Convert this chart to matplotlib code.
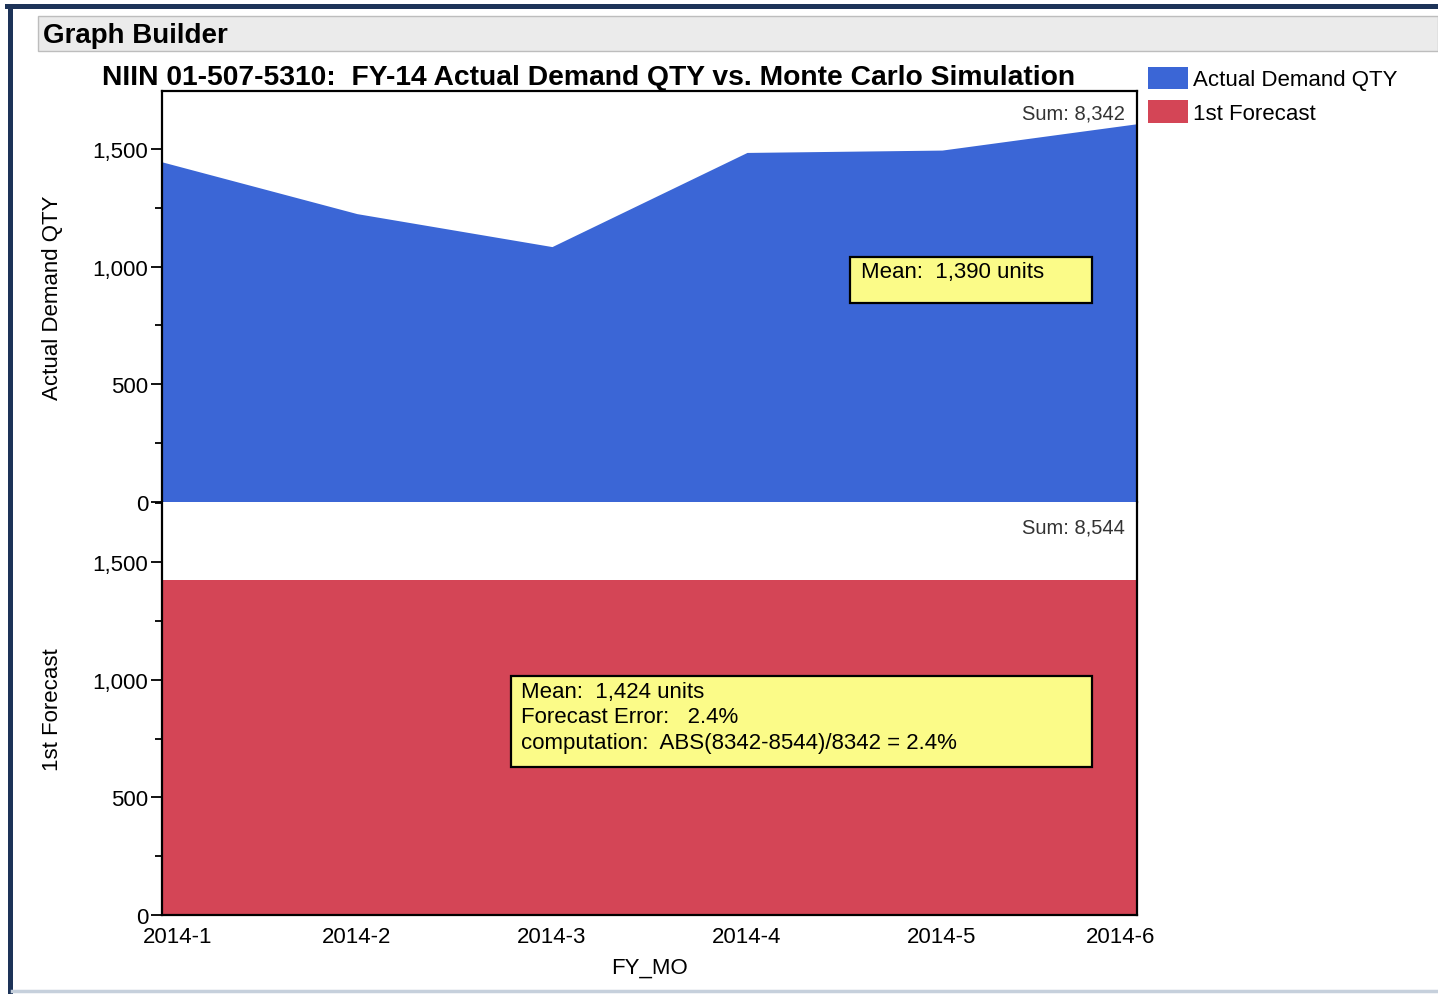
import matplotlib
matplotlib.use("Agg")
import matplotlib.pyplot as plt
from matplotlib.patches import Rectangle, Patch
from matplotlib.ticker import MultipleLocator, FuncFormatter
from matplotlib.transforms import ScaledTranslation

plt.rcParams["font.family"] = ["Liberation Sans", "DejaVu Sans"]

# ---- data ----
months = ["2014-1", "2014-2", "2014-3", "2014-4", "2014-5", "2014-6"]
actual = [1445, 1225, 1085, 1485, 1495, 1607]
forecast = [1424, 1424, 1424, 1424, 1424, 1424]

title = "NIIN 01-507-5310:  FY-14 Actual Demand QTY vs. Monte Carlo Simulation"
BLUE = "#3b66d6"
RED = "#d44556"
YELLOW = "#fbfb88"

W, H = 1438, 995


def fx(x):
    return x / W


def fy(y):
    return 1 - y / H


def main():
    fig = plt.figure(figsize=(W / 100, H / 100), dpi=100)

    # ---- window chrome ----
    fig.add_artist(plt.Line2D([fx(9.5), fx(9.5)], [fy(7), fy(995)],
                              color="#1d3358", lw=3.6))
    fig.add_artist(plt.Line2D([fx(7), fx(1438)], [fy(7), fy(7)],
                              color="#1d3358", lw=3.6))
    fig.add_artist(plt.Line2D([fx(12), fx(1438)], [fy(992), fy(992)],
                              color="#c6d0dc", lw=2.5))
    fig.add_artist(Rectangle((fx(38), fy(52)), fx(1438 - 38), 35 / H,
                             facecolor="#ebebeb", edgecolor="#bdbdbd", lw=1))
    fig.text(fx(43), fy(36), "Graph Builder", fontsize=20, fontweight="bold",
             va="center", ha="left")
    fig.text(fx(102), fy(78), title, fontsize=20.35, fontweight="bold",
             va="center", ha="left")

    x = list(range(len(months)))
    ax1 = fig.add_axes([fx(162), fy(503), fx(1137 - 162), 411 / H])
    ax2 = fig.add_axes([fx(162), fy(916), fx(1137 - 162), 413 / H])

    ax1.fill_between(x, actual, 0, color=BLUE, lw=0)
    ax2.fill_between(x, forecast, 0, color=RED, lw=0)

    ax1.set_ylim(0, 1746)
    ax2.set_ylim(0, 1755)
    fmt = FuncFormatter(lambda v, p: f"{int(v):,}")
    for ax in (ax1, ax2):
        ax.set_xlim(0, len(months) - 1)
        ax.yaxis.set_major_locator(MultipleLocator(500))
        ax.yaxis.set_minor_locator(MultipleLocator(250))
        ax.yaxis.set_major_formatter(fmt)
        ax.tick_params(axis="y", which="major", length=8, width=1.3,
                       labelsize=16, pad=2)
        ax.tick_params(axis="y", which="minor", length=5, width=1.3)
        for s in ax.spines.values():
            s.set_linewidth(1.6)
            s.set_color("black")

    ax1.spines["bottom"].set_visible(False)
    ax2.spines["top"].set_visible(False)
    ax1.set_xticks([])
    ax2.set_xticks(x)
    ax2.set_xticklabels(months)
    ax2.tick_params(axis="x", length=0, labelsize=16, pad=8)
    labels = ax2.get_xticklabels()
    labels[0].set_transform(labels[0].get_transform()
                            + ScaledTranslation(0.16, 0, fig.dpi_scale_trans))
    labels[-1].set_transform(labels[-1].get_transform()
                             + ScaledTranslation(-0.16, 0, fig.dpi_scale_trans))
    # zero label on the lower panel sits a bit higher, as in JMP
    fig.canvas.draw()
    zero = ax2.get_yticklabels()[0]
    zero.set_transform(zero.get_transform()
                       + ScaledTranslation(0, 0.03, fig.dpi_scale_trans))

    ax1.set_ylabel("Actual Demand QTY", fontsize=16)
    ax2.set_ylabel("1st Forecast", fontsize=16)
    ax1.yaxis.set_label_coords(-99 / 975, 0.5)
    ax2.yaxis.set_label_coords(-99 / 975, 0.5)
    ax2.set_xlabel("FY_MO", fontsize=16, labelpad=7)

    ax1.annotate(f"Sum: {sum(actual):,}", xy=(1, 1), xycoords="axes fraction",
                 xytext=(-9, -16), textcoords="offset points",
                 ha="right", va="center", fontsize=14.5, color="#333333")
    ax2.annotate(f"Sum: {sum(forecast):,}", xy=(1, 1), xycoords="axes fraction",
                 xytext=(-9, -18), textcoords="offset points",
                 ha="right", va="center", fontsize=14.5, color="#333333")

    # ---- annotation boxes ----
    mean_a = sum(actual) / len(actual)
    mean_f = sum(forecast) / len(forecast)
    err = abs(sum(actual) - sum(forecast)) / sum(actual) * 100
    fig.add_artist(Rectangle((fx(850), fy(304)), fx(1092 - 850), 46 / H,
                             facecolor=YELLOW, edgecolor="black", lw=1.6))
    fig.text(fx(861), fy(273), f"Mean:  {mean_a:,.0f} units", fontsize=16,
             va="center", ha="left")
    fig.add_artist(Rectangle((fx(511), fy(768)), fx(1092 - 511), 91 / H,
                             facecolor=YELLOW, edgecolor="black", lw=1.6))
    box_txt = (f"Mean:  {mean_f:,.0f} units\n"
               f"Forecast Error:   {err:.1f}%\n"
               f"computation:  ABS({sum(actual)}-{sum(forecast)})/{sum(actual)} = {err:.1f}%")
    fig.text(fx(521), fy(718), box_txt, fontsize=16, va="center", ha="left",
             linespacing=1.27)

    # ---- legend ----
    handles = [Patch(facecolor=BLUE, edgecolor="none", label="Actual Demand QTY"),
               Patch(facecolor=RED, edgecolor="none", label="1st Forecast")]
    fig.legend(handles=handles, loc="upper left",
               bbox_to_anchor=(fx(1139), fy(59)), frameon=False, fontsize=16,
               handlelength=1.8, handleheight=1.15, handletextpad=0.25,
               labelspacing=0.45, borderaxespad=0)

    fig.savefig("out.png", dpi=100, facecolor="white")
    plt.close(fig)


if __name__ == "__main__":
    main()
